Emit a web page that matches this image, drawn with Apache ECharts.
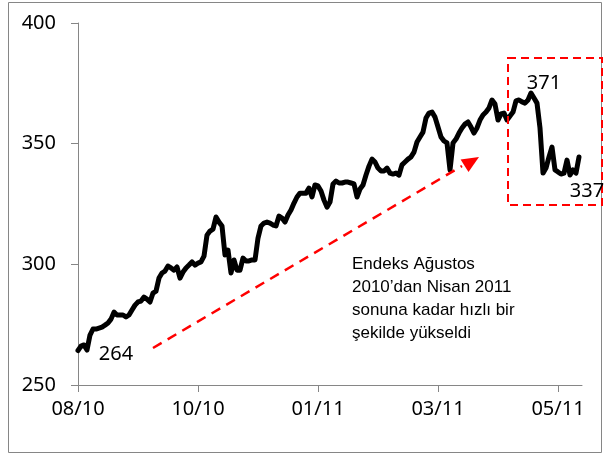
<!DOCTYPE html>
<html>
<head>
<meta charset="utf-8">
<script src="https://cdn.jsdelivr.net/npm/echarts/dist/echarts.min.js"></script>
<style>
html,body{margin:0;padding:0;background:#fff;}
#chart{width:606px;height:455px;}
</style>
</head>
<body>
<div id="chart"></div>
<script>
// tick labels for the category axis (one every 40 trading days)
const tickLabels = ['08/10', '10/10', '01/11', '03/11', '05/11'];
const tickEvery = 40;

// index values (daily)
const indexValues = [
  264.3, 266.1, 266.6, 264.5, 270.7, 273.2, 273.2, 273.6, 274.0, 274.8,
  275.7, 277.3, 280.2, 279.0, 279.0, 279.0, 278.2, 279.0, 281.1, 283.1,
  284.4, 284.8, 286.4, 285.6, 284.4, 288.1, 288.9, 294.3, 296.4, 297.2,
  299.3, 298.5, 297.6, 298.9, 294.3, 296.8, 298.5, 299.7, 301.0, 299.7,
  300.5, 301.0, 303.4, 312.1, 313.8, 314.6, 319.6, 317.5, 315.9, 303.9,
  305.9, 296.4, 301.8, 297.6, 297.6, 302.6, 301.4, 301.4, 301.8, 301.8,
  310.9, 315.9, 317.1, 317.5, 317.1, 316.3, 315.9, 320.0, 319.2, 317.5,
  320.4, 322.5, 325.4, 327.9, 329.5, 329.5, 329.5, 331.6, 327.9, 332.9,
  332.5, 330.4, 326.6, 323.7, 325.8, 333.3, 334.5, 333.7, 333.7, 334.1,
  334.1, 333.7, 333.3, 327.9, 331.2, 332.9, 337.0, 340.7, 343.6, 342.4,
  339.9, 338.7, 338.7, 339.9, 337.8, 337.4, 337.8, 337.0, 341.2, 342.4,
  343.6, 344.5, 346.5, 350.7, 352.8, 354.8, 360.6, 362.7, 363.1, 361.0,
  356.9, 352.8, 351.1, 350.3, 339.1, 350.3, 351.9, 354.4, 356.5, 358.1,
  359.0, 356.9, 354.4, 356.5, 359.8, 361.9, 363.1, 364.8, 368.1, 366.4,
  359.8, 362.3, 362.7, 359.8, 361.5, 363.1, 367.7, 368.1, 367.3, 366.8,
  368.1, 371.0, 368.9, 366.8, 356.5, 337.8, 339.9, 344.5, 348.6, 339.1,
  338.3, 337.4, 337.8, 343.2, 337.0, 339.1, 337.8, 344.5, '-'
];

// annotations
const startLabel = '264';
const peakLabel = '371';
const lastLabel = '337';
const noteLines = ['Endeks Ağustos', '2010’dan Nisan 2011', 'sonuna kadar hızlı bir', 'şekilde yükseldi'];

const categories = indexValues.map((v, i) => String(i));

const chart = echarts.init(document.getElementById('chart'), null, {renderer: 'canvas'});
const axisFont = 'Noto Sans';
const axisColor = '#868686';

chart.setOption({
  animation: false,
  backgroundColor: '#ffffff',
  grid: {left: 78, right: 24, top: 23, bottom: 70, containLabel: false},
  xAxis: {
    type: 'category',
    data: categories,
    boundaryGap: false,
    axisLine: {show: true, lineStyle: {color: axisColor, width: 1}},
    axisTick: {show: true, interval: tickEvery - 1, length: 7, lineStyle: {color: axisColor}},
    axisLabel: {
      interval: tickEvery - 1,
      margin: 14,
      fontFamily: axisFont, fontSize: 20, color: '#000',
      formatter: function (v, idx) { return idx % tickEvery === 0 ? (tickLabels[idx / tickEvery] || '') : ''; }
    },
    splitLine: {show: false}
  },
  yAxis: {
    type: 'value',
    min: 250, max: 400, interval: 50,
    axisLine: {show: true, lineStyle: {color: axisColor, width: 1}},
    axisTick: {show: true, length: 7, lineStyle: {color: axisColor}},
    axisLabel: {margin: 22, fontFamily: axisFont, fontSize: 20, color: '#000'},
    splitLine: {show: false}
  },
  series: [{
    type: 'line',
    data: indexValues,
    showSymbol: false,
    symbol: 'none',
    lineStyle: {color: '#000', width: 5, join: 'round', cap: 'round'},
    z: 3
  }],
  graphic: [
    {type: 'rect', shape: {x: 8.5, y: 2.5, width: 593, height: 450},
     style: {fill: 'none', stroke: axisColor, lineWidth: 1}, silent: true, z: 0},
    {type: 'rect', shape: {x: 508, y: 58, width: 94, height: 147},
     style: {fill: 'none', stroke: '#ff0000', lineWidth: 2, lineDash: [8, 5]}, z: 10},
    {type: 'line', shape: {x1: 153, y1: 348, x2: 462, y2: 166},
     style: {stroke: '#ff0000', lineWidth: 2.5, lineDash: [10, 7]}, z: 10},
    {type: 'polygon', shape: {points: [[479, 157], [460.6, 159.5], [468.5, 172]]},
     style: {fill: '#ff0000'}, z: 10},
    {type: 'text', x: 116, y: 354, style: {text: startLabel, font: '20px "Noto Sans"', fill: '#000', align: 'center', verticalAlign: 'middle'}, z: 10},
    {type: 'text', x: 544, y: 83, style: {text: peakLabel, font: '20px "Noto Sans"', fill: '#000', align: 'center', verticalAlign: 'middle'}, z: 10},
    {type: 'text', x: 587, y: 191, style: {text: lastLabel, font: '20px "Noto Sans"', fill: '#000', align: 'center', verticalAlign: 'middle'}, z: 10},
    {type: 'text', x: 352, y: 253, style: {text: noteLines.join('\n'), font: '17px "Liberation Sans"', lineHeight: 23, fill: '#000', align: 'left', verticalAlign: 'top'}, z: 10}
  ]
});
</script>
</body>
</html>
